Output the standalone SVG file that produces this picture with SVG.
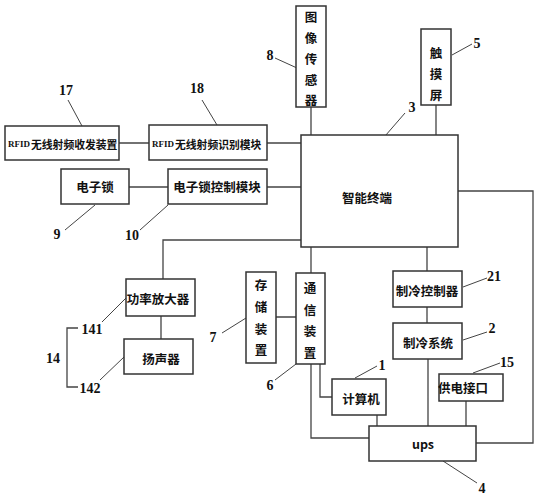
<svg xmlns="http://www.w3.org/2000/svg" width="539" height="500" viewBox="0 0 539 500">
<style>
.box{fill:#fff;stroke:#333;stroke-width:1.5}
.ln{fill:none;stroke:#444;stroke-width:1.3}
.ld{fill:none;stroke:#444;stroke-width:1}
.t{font-family:"Noto Sans CJK SC","Noto Sans",sans-serif;font-weight:bold;font-size:12.5px;fill:#111;text-anchor:middle;dominant-baseline:central}
.s{font-family:"Noto Sans CJK SC","Noto Sans",sans-serif;font-weight:bold;font-size:10.8px;fill:#111;text-anchor:start;dominant-baseline:central}
.r{font-family:"Liberation Serif",serif;font-weight:bold;font-size:9px;fill:#111;text-anchor:start;dominant-baseline:central}
.n{font-family:"Liberation Serif",serif;font-weight:bold;font-size:14px;fill:#111;text-anchor:middle;dominant-baseline:central}
</style>
<rect width="539" height="500" fill="#fff"/>
<g id="connectors">
<path class="ln" d="M119,143H149M267,143H301M129,187H168M267,187H301"/>
<path class="ln" d="M311,107V135M436,105V135"/>
<path class="ln" d="M301,240H163V279M161,316V339"/>
<path class="ln" d="M276,317H296M311,247V273M427,247V271M427,307V323"/>
<path class="ln" d="M320,364V397H332M377,415V426M428,359V426M466,401V426"/>
<path class="ln" d="M311,364V438H369M476,443H533V191H458"/>
<path class="ln" d="M78,328H67V387H78"/>
</g>
<g id="leaders">
<path class="ld" d="M68,100L82,126M202,100L217,125M275,58L297,68M65,230L95,205M140,230L168,205"/>
<path class="ld" d="M452,55L472,44M405,113L379,143M102,322L126,298M100,380L124,357M222,333L246,318M275,380L296,364"/>
<path class="ld" d="M463,287L487,278M463,340L487,332M355,378L377,366M473,373L500,363M443,461L477,483"/>
</g>
<g id="labels">
<text class="n" x="66" y="90">17</text>
<text class="n" x="197" y="88">18</text>
<text class="n" x="270" y="55">8</text>
<text class="n" x="477" y="43">5</text>
<text class="n" x="412" y="107">3</text>
<text class="n" x="57" y="234">9</text>
<text class="n" x="132" y="235">10</text>
<text class="n" x="92" y="329">141</text>
<text class="n" x="90" y="388">142</text>
<text class="n" x="53" y="358">14</text>
<text class="n" x="213" y="337">7</text>
<text class="n" x="270" y="385">6</text>
<text class="n" x="494" y="276">21</text>
<text class="n" x="492" y="328">2</text>
<text class="n" x="382" y="365">1</text>
<text class="n" x="507" y="362">15</text>
<text class="n" x="482" y="488">4</text>
</g>
<g id="rfid-transceiver"><rect class="box" x="5" y="126" width="114" height="34"/><text class="r" x="8" y="144">RFID</text><text class="s" x="31" y="144">无线射频收发装置</text></g>
<g id="rfid-module"><rect class="box" x="149" y="125" width="118" height="35"/><text class="r" x="152" y="144">RFID</text><text class="s" x="175" y="144">无线射频识别模块</text></g>
<g id="lock"><rect class="box" x="61" y="169" width="68" height="35"/><text class="t" x="95" y="186">电子锁</text></g>
<g id="lock-ctrl"><rect class="box" x="168" y="169" width="99" height="35"/><text class="t" x="217" y="186">电子锁控制模块</text></g>
<g id="image-sensor"><rect class="box" x="296" y="6" width="30" height="101"/>
<text class="t" x="311" y="16">图</text><text class="t" x="311" y="37">像</text><text class="t" x="311" y="58">传</text><text class="t" x="311" y="79">感</text><text class="t" x="311" y="99">器</text></g>
<g id="touch"><rect class="box" x="421" y="29" width="30" height="76"/>
<text class="t" x="436" y="52">触</text><text class="t" x="436" y="73">摸</text><text class="t" x="436" y="94">屏</text></g>
<g id="terminal"><rect class="box" x="301" y="135" width="157" height="112"/><text class="t" x="367" y="197">智能终端</text></g>
<g id="amp"><rect class="box" x="126" y="279" width="69" height="37"/><text class="t" x="158" y="298">功率放大器</text></g>
<g id="speaker"><rect class="box" x="124" y="339" width="69" height="35"/><text class="t" x="161" y="358">扬声器</text></g>
<g id="storage"><rect class="box" x="246" y="272" width="30" height="91"/>
<text class="t" x="261" y="284">存</text><text class="t" x="261" y="306">储</text><text class="t" x="261" y="328">装</text><text class="t" x="261" y="349">置</text></g>
<g id="comm"><rect class="box" x="296" y="273" width="29" height="91"/>
<text class="t" x="310" y="287">通</text><text class="t" x="310" y="309">信</text><text class="t" x="310" y="330">装</text><text class="t" x="310" y="352">置</text></g>
<g id="cool-ctrl"><rect class="box" x="393" y="271" width="69" height="36"/><text class="t" x="427" y="290">制冷控制器</text></g>
<g id="cool-sys"><rect class="box" x="393" y="323" width="69" height="36"/><text class="t" x="428" y="342">制冷系统</text></g>
<g id="computer"><rect class="box" x="332" y="379" width="54" height="36"/><text class="t" x="361" y="398">计算机</text></g>
<g id="power-port"><rect class="box" x="439" y="374" width="64" height="27"/><text class="t" x="463" y="387">供电接口</text></g>
<g id="ups"><rect class="box" x="369" y="426" width="107" height="35"/><text class="t" x="423" y="443" font-family="Liberation Serif,serif" font-weight="normal" font-size="13">ups</text></g>
</svg>
